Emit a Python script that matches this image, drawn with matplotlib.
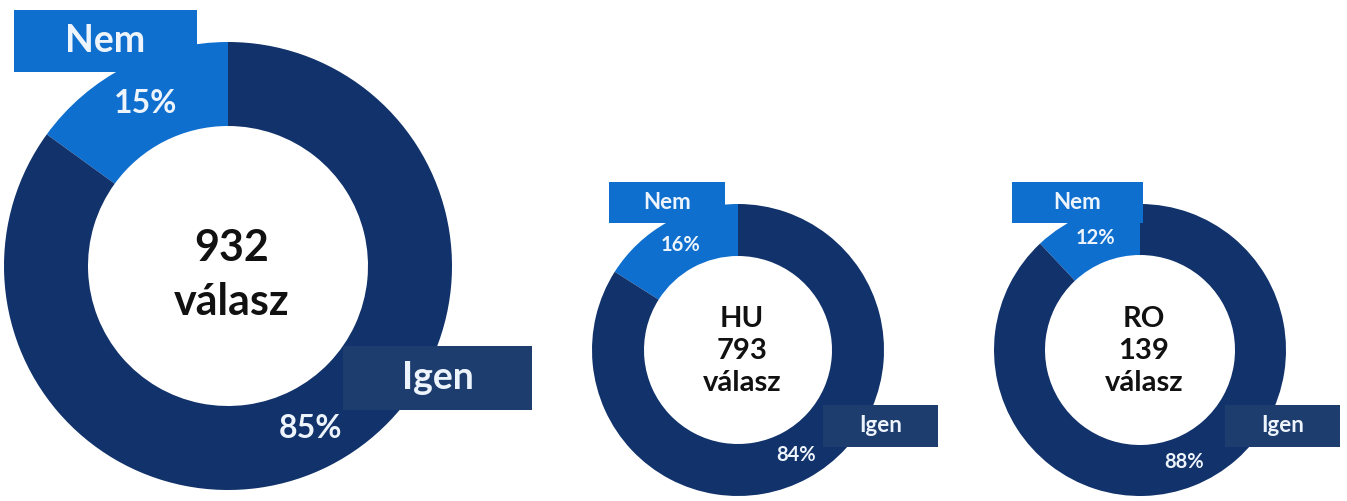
import matplotlib
matplotlib.use('Agg')
import matplotlib.pyplot as plt
from matplotlib.patches import Rectangle

plt.rcParams['font.family'] = ['Lato', 'DejaVu Sans']

W, H = 1347, 501

# data
regions = ['', 'HU', 'RO']
answers = [932, 793, 139]
nem_pct = [15, 16, 12]
igen_pct = [85, 84, 88]

DARK = '#11326A'
BRIGHT = '#0F6FCF'
BOX_DARK = '#1D3D6F'
LIGHT = '#EEF4FB'

# layout, in pixels (x right, y down like the picture)
centers = [(228, 266), (738, 350), (1140, 350)]
radii = [224, 146, 146]
holes = [140, 94, 95]
nem_box = [(14, 10, 183, 62), (609, 182, 116, 41), (1012, 182, 131, 41)]
igen_box = [(343, 346, 189, 64), (823, 405, 115, 42), (1225, 405, 115, 42)]
lab_size = [27, 16, 16]
pct_size = [23, 14.5, 14.5]
mid_size = [31, 21, 21]
mid_dy = [9, 1, 1]
mid_ls = [1.42, 1.27, 1.27]

fig = plt.figure(figsize=(W / 100, H / 100), dpi=100)
ax = fig.add_axes([0, 0, 1, 1])

for i in range(3):
    cx, cy = centers[i]
    R, r = radii[i], holes[i]
    wedges, _, pcts = ax.pie(
        [nem_pct[i], igen_pct[i]], colors=[BRIGHT, DARK], startangle=90,
        counterclock=True, radius=R, center=(cx, H - cy),
        autopct=lambda p: '%.0f%%' % p, pctdistance=(R + r) / 2 / R,
        wedgeprops=dict(width=R - r, linewidth=0))
    for t in pcts:
        t.set_color(LIGHT)
        t.set_fontsize(pct_size[i])
        t.set_fontweight('bold')
        t.set_zorder(6)

    # label boxes
    for (bx, by, bw, bh), col, txt in [(nem_box[i], BRIGHT, 'Nem'),
                                       (igen_box[i], BOX_DARK, 'Igen')]:
        ax.add_patch(Rectangle((bx, H - by - bh), bw, bh, facecolor=col,
                               edgecolor='none', zorder=4))
        ax.text(bx + bw / 2, H - by - bh / 2, txt, ha='center', va='center',
                fontsize=lab_size[i], fontweight='bold', color=LIGHT, zorder=6)

    mid = '%d\nválasz' % answers[i]
    if regions[i]:
        mid = regions[i] + '\n' + mid
    ax.text(cx + 4, H - cy - mid_dy[i], mid, ha='center', va='center',
            fontsize=mid_size[i], fontweight='bold', color='#111111',
            linespacing=mid_ls[i], zorder=6)

ax.set_xlim(0, W)
ax.set_ylim(0, H)
ax.set_aspect('auto')
ax.axis('off')

fig.savefig('out.png', dpi=100, facecolor='white')
